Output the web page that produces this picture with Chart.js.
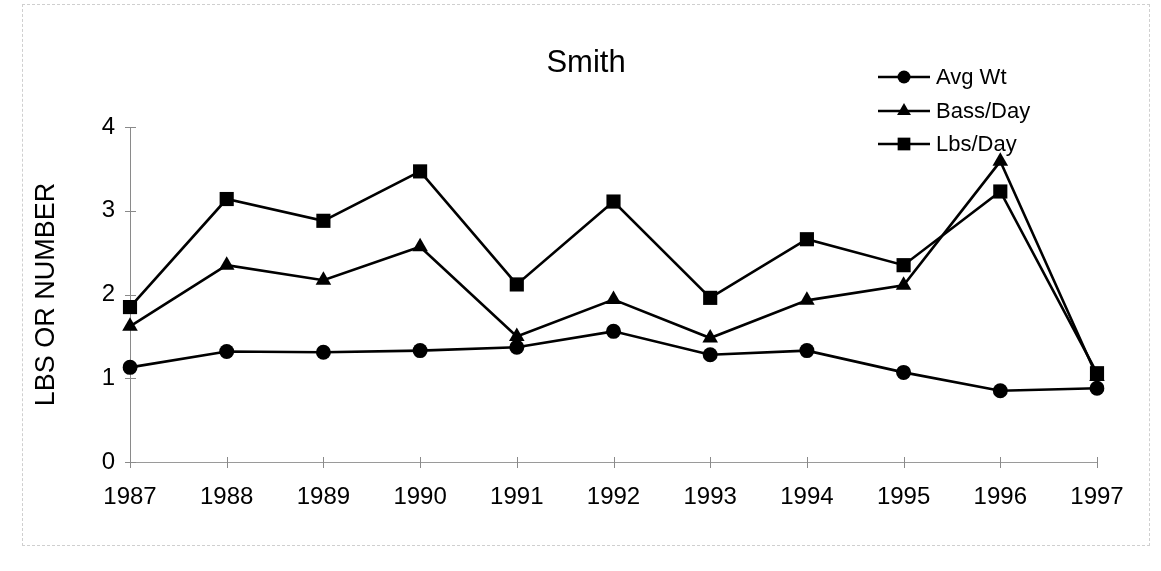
<!DOCTYPE html>
<html><head><meta charset="utf-8">
<script src="https://cdn.jsdelivr.net/npm/chart.js@4.4.1/dist/chart.umd.min.js"></script>
<style>
html,body{margin:0;padding:0;background:#fff;}
#wrap{position:relative;width:1161px;height:571px;}
#frame{position:absolute;left:22px;top:4px;width:1128px;height:542px;border:1px dashed #cfcfcf;box-sizing:border-box;pointer-events:none;}
</style></head><body>
<div id="wrap"><canvas id="c" width="1161" height="571"></canvas><div id="frame"></div></div>
<script>
const years = ['1987','1988','1989','1990','1991','1992','1993','1994','1995','1996','1997'];
const avgWt = [1.13,1.32,1.31,1.33,1.37,1.56,1.28,1.33,1.07,0.85,0.88];
const bassPerDay = [1.62,2.35,2.17,2.57,1.50,1.94,1.48,1.93,2.11,3.59,1.02];
const lbsPerDay = [1.85,3.14,2.88,3.47,2.12,3.11,1.96,2.66,2.35,3.23,1.06];
const yTicks = [0,1,2,3,4];
const chartTitle = 'Smith';
const yTitle = 'LBS OR NUMBER';

const FONT = '"Liberation Sans", Arial, sans-serif';

function marker(ctx, style, x, y, r) {
  ctx.beginPath();
  if (style === 'circle') {
    ctx.arc(x, y, r, 0, Math.PI * 2);
  } else if (style === 'triangle') {
    for (let k = 0; k < 3; k++) {
      const a = -Math.PI / 2 + k * 2 * Math.PI / 3;
      const px = x + Math.cos(a) * r, py = y + Math.sin(a) * r;
      if (k === 0) ctx.moveTo(px, py); else ctx.lineTo(px, py);
    }
    ctx.closePath();
  } else {
    const s = r * Math.SQRT1_2;
    ctx.rect(x - s, y - s, 2 * s, 2 * s);
  }
  ctx.fill();
}

const titlePlugin = {
  id: 'titleText',
  afterDraw(chart) {
    const ctx = chart.ctx;
    ctx.save();
    ctx.fillStyle = '#000';
    ctx.font = '31px ' + FONT;
    ctx.textAlign = 'center';
    ctx.textBaseline = 'alphabetic';
    ctx.fillText(chartTitle, 586, 72);
    ctx.restore();
  }
};

const legendPlugin = {
  id: 'lineLegend',
  afterDraw(chart) {
    const ctx = chart.ctx;
    const rows = [77, 111, 144];
    ctx.save();
    chart.data.datasets.forEach((ds, i) => {
      const y = rows[i];
      ctx.strokeStyle = ds.borderColor;
      ctx.lineWidth = 2.5;
      ctx.beginPath(); ctx.moveTo(878, y); ctx.lineTo(930, y); ctx.stroke();
      ctx.fillStyle = ds.pointBackgroundColor;
      marker(ctx, ds.pointStyle, 904, y, ds.pointStyle === 'circle' ? 6.5 : (ds.pointStyle === 'triangle' ? 8 : 9));
      ctx.fillStyle = '#000';
      ctx.font = '22px ' + FONT;
      ctx.textAlign = 'left';
      ctx.textBaseline = 'middle';
      ctx.fillText(ds.label, 936, y + 1);
    });
    ctx.restore();
  }
};

const crossTicks = {
  id: 'crossTicks',
  afterDatasetsDraw(chart) {
    const ctx = chart.ctx;
    const xs = chart.scales.x, ys = chart.scales.y;
    const a = chart.chartArea;
    ctx.save();
    ctx.strokeStyle = '#8a8a8a';
    ctx.lineWidth = 1;
    ctx.beginPath();
    xs.ticks.forEach((t, i) => {
      const px = Math.round(xs.getPixelForTick(i)) + 0.5;
      ctx.moveTo(px, a.bottom - 5); ctx.lineTo(px, a.bottom + 6);
    });
    ys.ticks.forEach((t, i) => {
      const py = Math.round(ys.getPixelForTick(i)) + 0.5;
      ctx.moveTo(a.left - 5, py); ctx.lineTo(a.left + 6, py);
    });
    ctx.stroke();
    ctx.restore();
  }
};

function ds(label, data, style, r) {
  return {
    label, data,
    borderColor: '#000', backgroundColor: '#000',
    pointBackgroundColor: '#000', pointBorderColor: '#000',
    borderWidth: 2.6, pointStyle: style, pointRadius: r, pointBorderWidth: 0,
    pointHoverRadius: r, tension: 0, fill: false
  };
}

new Chart(document.getElementById('c'), {
  type: 'line',
  data: {
    labels: years,
    datasets: [
      ds('Avg Wt', avgWt, 'circle', 7.5),
      ds('Bass/Day', bassPerDay, 'triangle', 9),
      ds('Lbs/Day', lbsPerDay, 'rect', 10)
    ]
  },
  options: {
    responsive: false,
    animation: false,
    events: [],
    layout: { padding: { left: 0, right: 64, top: 127, bottom: 0 } },
    plugins: {
      legend: { display: false },
      tooltip: { enabled: false },
      title: { display: false }
    },
    scales: {
      x: {
        type: 'category', offset: false,
        grid: { display: true, drawOnChartArea: false, drawTicks: true, tickLength: 6, color: 'rgba(0,0,0,0)' },
        border: { display: true, color: '#9a9a9a', width: 1 },
        ticks: { color: '#000', font: { family: FONT, size: 24 }, padding: 15, maxRotation: 0, autoSkip: false },
        afterFit(s) { s.height = 571 - 462; }
      },
      y: {
        min: 0, max: 4,
        afterBuildTicks(s) { s.ticks = yTicks.map(v => ({ value: v })); },
        grid: { display: true, drawOnChartArea: false, drawTicks: true, tickLength: 6, color: 'rgba(0,0,0,0)' },
        border: { display: true, color: '#8a8a8a', width: 1 },
        ticks: { color: '#000', font: { family: FONT, size: 24 }, padding: 9 },
        title: { display: true, text: yTitle, color: '#000', font: { family: FONT, size: 27 }, padding: { top: 30, bottom: 0 } },
        afterFit(s) { s.width = 130; }
      }
    }
  },
  plugins: [crossTicks, legendPlugin, titlePlugin]
});
</script>
</body></html>
